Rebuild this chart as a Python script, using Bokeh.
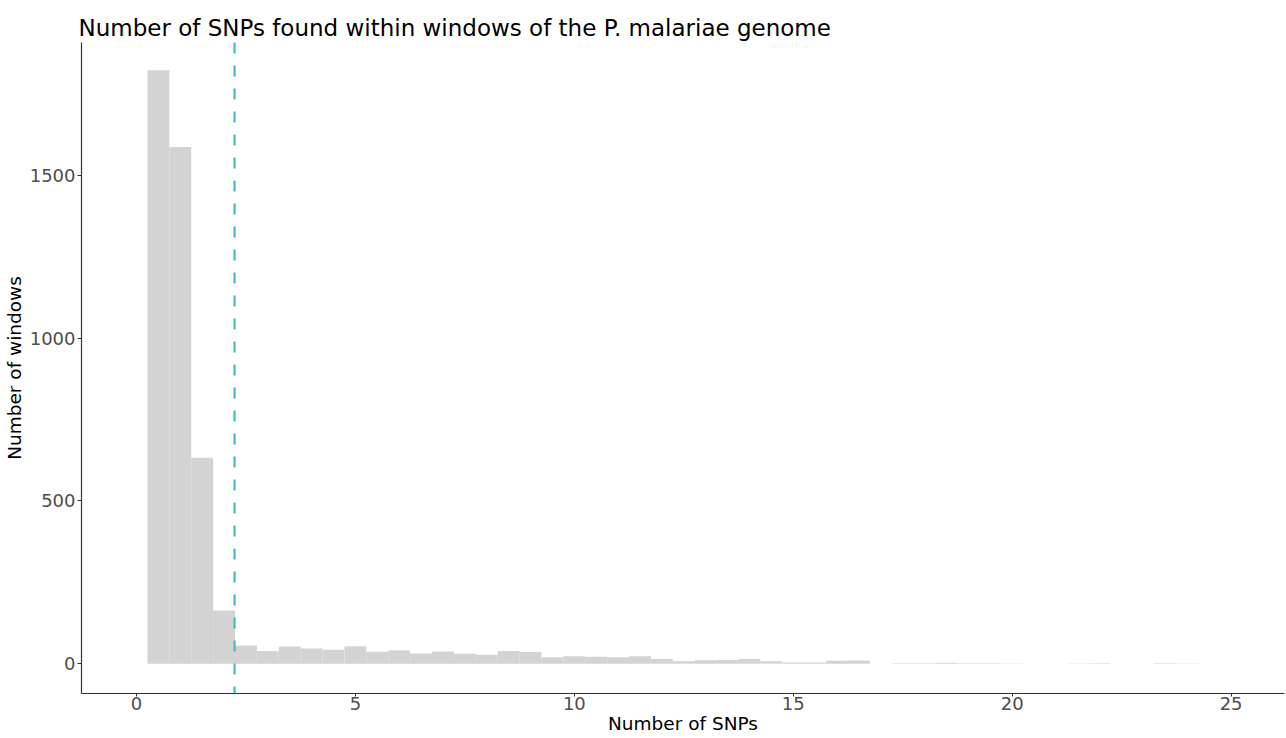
from bokeh.plotting import figure
from bokeh.models import Span, Range1d, FixedTicker
from bokeh.embed import file_html
from bokeh.resources import INLINE

# Histogram data (bin centres, bin width 0.5)
bin_centers = [0.5, 1.0, 1.5, 2.0, 2.5, 3.0, 3.5, 4.0, 4.5, 5.0,
               5.5, 6.0, 6.5, 7.0, 7.5, 8.0, 8.5, 9.0, 9.5, 10.0,
               10.5, 11.0, 11.5, 12.0, 12.5, 13.0, 13.5, 14.0, 14.5, 15.0,
               15.5, 16.0, 16.5, 17.0, 17.5, 18.0, 18.5, 19.0, 19.5, 20.0,
               20.5, 21.0, 21.5, 22.0, 22.5, 23.0, 23.5, 24.0]
counts = [1823, 1587, 633, 164, 56, 39, 53, 47, 43, 54,
          37, 42, 32, 38, 31, 28, 39, 36, 20, 23,
          22, 20, 23, 15, 8, 11, 12, 15, 8, 4,
          4, 9, 10, 0, 2, 2, 3, 2, 2, 1,
          0, 0, 1, 2, 0, 0, 2, 1]
bin_width = 0.5
mean_snps = 2.24
x_ticks = [0, 5, 10, 15, 20, 25]
y_ticks = [0, 500, 1000, 1500]

title = "Number of SNPs found within windows of the P. malariae genome"

p = figure(width=1286, height=738, output_backend="svg", toolbar_location=None,
           x_range=Range1d(-1.256, 26.22), y_range=Range1d(-91.2, 1908),
           min_border_left=81, min_border_right=2, min_border_top=42, min_border_bottom=45,
           title=title)

left = [c - bin_width / 2 for c in bin_centers]
right = [c + bin_width / 2 for c in bin_centers]
p.quad(left=left, right=right, bottom=0, top=counts, fill_color="#D3D3D3", line_color=None)

p.add_layout(Span(location=mean_snps, dimension="height", line_color="#4BBAC0",
                  line_width=2.2, line_dash="11 12"))

p.title.text_font = "DejaVu Sans"
p.title.text_font_size = "23px"
p.title.text_font_style = "normal"
p.title.text_color = "black"
p.title.standoff = 4
p.title.offset = -3

p.grid.visible = False
p.outline_line_color = None
p.background_fill_color = "white"
p.border_fill_color = "white"

for ax in (p.xaxis[0], p.yaxis[0]):
    ax.axis_line_color = "#333333"
    ax.axis_line_width = 1.2
    ax.major_tick_line_color = "#333333"
    ax.major_tick_in = 0
    ax.major_tick_out = 4
    ax.minor_tick_line_color = None
    ax.major_label_text_font = "DejaVu Sans"
    ax.major_label_text_font_size = "18px"
    ax.major_label_text_color = "#4D4D4D"
    ax.axis_label_text_font = "DejaVu Sans"
    ax.axis_label_text_font_size = "18.5px"
    ax.axis_label_text_font_style = "normal"
    ax.axis_label_text_color = "black"
    ax.major_label_standoff = 2

p.xaxis.ticker = FixedTicker(ticks=x_ticks)
p.yaxis.ticker = FixedTicker(ticks=y_ticks)
p.xaxis.axis_label = "Number of SNPs"
p.yaxis.axis_label = "Number of windows"
p.xaxis.axis_label_standoff = 0
p.xaxis.major_label_standoff = 0
p.xaxis.major_tick_out = 3
p.yaxis.axis_label_standoff = 2

open("out.html", "w").write(file_html(p, INLINE))
